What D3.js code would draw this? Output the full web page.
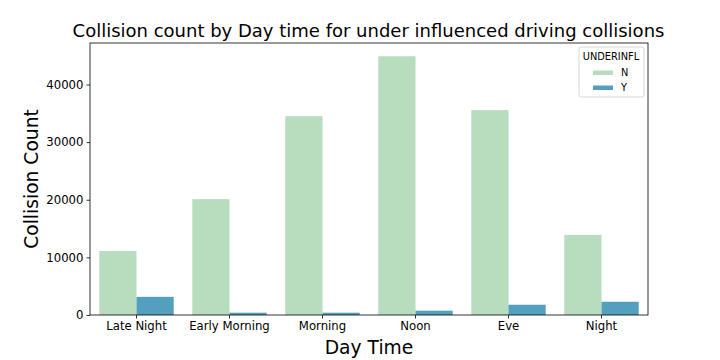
<!DOCTYPE html>
<html><head><meta charset="utf-8">
<script src="https://cdn.jsdelivr.net/npm/d3@7"></script>
<style>body{margin:0;background:#fff}svg{font-family:"DejaVu Sans",sans-serif}</style>
</head><body><svg id="c" width="720" height="360"></svg>
<script>
const categories = ["Late Night","Early Morning","Morning","Noon","Eve","Night"];
const hues = ["N","Y"];
const valuesN = [11100, 20100, 34500, 44900, 35550, 13900];
const valuesY = [3150, 400, 400, 750, 1780, 2300];
const yTicks = [0,10000,20000,30000,40000];
const colors = ["#b8dcbe","#539fbe"];

const svg = d3.select("#c");
const m = {l:90, r:648, t:43, b:315};
const x0 = d3.scaleBand().domain(categories).range([m.l, m.r]);
const xs = d3.scaleBand().domain(hues).range([0, x0.bandwidth()*0.8]);
const y = d3.scaleLinear().domain([0, 47200]).range([m.b, m.t]);

const series = [valuesN, valuesY];
series.forEach((vals, si) => {
  svg.append("g").selectAll("rect").data(vals).join("rect")
    .attr("x", (d,i) => x0(categories[i]) + x0.bandwidth()*0.1 + xs(hues[si]))
    .attr("width", xs.bandwidth())
    .attr("y", d => y(d))
    .attr("height", d => y(0) - y(d))
    .attr("fill", colors[si]);
});

const xa = svg.append("g").attr("transform", `translate(0,${m.b})`)
  .call(d3.axisBottom(x0).tickSizeOuter(0).tickSize(3.5).tickPadding(3));
xa.select(".domain").remove();
xa.selectAll("text").attr("font-size", 11.7).attr("fill","#000").attr("font-family","DejaVu Sans");
xa.selectAll("line").attr("stroke","#000").attr("stroke-width",0.8);

const ya = svg.append("g").attr("transform", `translate(${m.l},0)`)
  .call(d3.axisLeft(y).tickValues(yTicks).tickFormat(d3.format("d")).tickSizeOuter(0).tickSize(3.5).tickPadding(3));
ya.select(".domain").remove();
ya.selectAll("text").attr("font-size", 11.7).attr("fill","#000").attr("font-family","DejaVu Sans");
ya.selectAll("line").attr("stroke","#000").attr("stroke-width",0.8);

svg.append("rect").attr("x", m.l).attr("y", m.t).attr("width", m.r-m.l).attr("height", m.b-m.t)
  .attr("fill","none").attr("stroke","#000").attr("stroke-width",0.8);

svg.append("text").attr("x", (m.l+m.r)/2 - 0.5).attr("y", 37).attr("text-anchor","middle")
  .attr("font-size", 18).text("Collision count by Day time for under influenced driving collisions");
svg.append("text").attr("x", (m.l+m.r)/2).attr("y", 354).attr("text-anchor","middle")
  .attr("font-size", 18.7).text("Day Time");
svg.append("text").attr("transform", `translate(37.5,${(m.t+m.b)/2}) rotate(-90)`).attr("text-anchor","middle")
  .attr("font-size", 18.7).text("Collision Count");

const lg = svg.append("g");
lg.append("rect").attr("x",579).attr("y",47).attr("width",65).attr("height",50).attr("rx",2.5)
  .attr("fill","#fff").attr("fill-opacity",0.8).attr("stroke","#ccc").attr("stroke-width",0.8);
lg.append("text").attr("x",611).attr("y",60).attr("text-anchor","middle").attr("font-size",9.8).text("UNDERINFL");
hues.forEach((h,i) => {
  lg.append("rect").attr("x",593).attr("y",70.5+i*15).attr("width",20).attr("height",4.5).attr("fill",colors[i]);
  lg.append("text").attr("x",621).attr("y",76+i*15).attr("font-size",9.8).text(h);
});
</script></body></html>
